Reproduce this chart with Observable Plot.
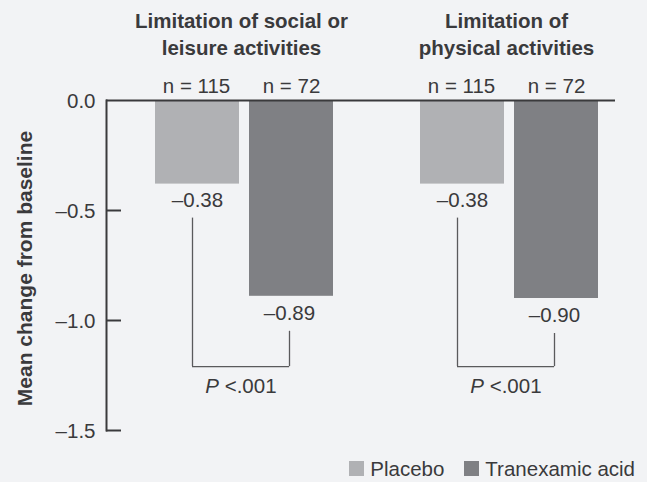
<!DOCTYPE html>
<html>
<head>
<meta charset="utf-8">
<script src="https://cdn.jsdelivr.net/npm/d3@7"></script>
<script src="https://cdn.jsdelivr.net/npm/@observablehq/plot@0.6"></script>
<style>
  html, body { margin: 0; padding: 0; background: #f2f3f5; }
  #chart { width: 647px; height: 482px; overflow: hidden; background: #f2f3f5;
           font-family: "Liberation Sans", Arial, sans-serif; color: #3a3a3c; }
  #chart svg { display: block; }
  .legend { display: flex; justify-content: flex-end; align-items: center; height: 19px; margin-top: -4px;
            padding-right: 12px; font-size: 20.5px; line-height: 19px; color: #3a3a3c; }
  .legend .item { display: inline-flex; align-items: center; margin-left: 20px; }
  .legend .sw { display: inline-block; width: 15px; height: 15px; margin-right: 6px; }
</style>
</head>
<body>
<div id="chart"></div>
<script>
// ---- data ----
const groups = ["Limitation of social or\nleisure activities", "Limitation of\nphysical activities"];
const series = ["Placebo", "Tranexamic acid"];
const placeboMeans = [-0.38, -0.38];
const tranexamicMeans = [-0.89, -0.90];
const placeboN = [115, 115];
const tranexamicN = [72, 72];
const pLabels = ["<.001", "<.001"];
const yTicks = [0, -0.5, -1.0, -1.5];
const yTickLabels = ["0.0", "–0.5", "–1.0", "–1.5"];
const yLabel = "Mean change from baseline";
const bracketLevel = -1.21;
const colors = ["#b0b1b4", "#7f8084"];

// ---- tables ----
const placeboRows = groups.map((g, i) => ({group: g, series: series[0], value: placeboMeans[i], n: placeboN[i]}));
const tranexamicRows = groups.map((g, i) => ({group: g, series: series[1], value: tranexamicMeans[i], n: tranexamicN[i]}));
const pRows = groups.map((g, i) => ({group: g, p: pLabels[i], placebo: placeboMeans[i], tranexamic: tranexamicMeans[i]}));

const fmt = v => (v < 0 ? "–" : "") + Math.abs(v).toFixed(2);
const ink = "#3a3a3c";
const half = 47;

const chart = Plot.plot({
  width: 647,
  height: 463,
  marginLeft: 106,
  marginRight: 32,
  marginTop: 100,
  marginBottom: 33,
  style: {background: "transparent", fontSize: "20.5px", fontFamily: "Liberation Sans, Arial, sans-serif", color: ink},
  x: {type: "band", domain: groups, paddingInner: 87 / 265, paddingOuter: 33 / 265, align: 49 / 66, round: false, axis: null},
  y: {domain: [-1.5, 0], axis: null},
  color: {domain: series, range: colors},
  marks: [
    Plot.barY(placeboRows, {x: "group", y: "value", fill: "series", insetRight: 94}),
    Plot.barY(tranexamicRows, {x: "group", y: "value", fill: "series", insetLeft: 94}),
    Plot.ruleY([0], {stroke: ink, strokeWidth: 2}),
    Plot.frame({anchor: "left", stroke: ink, strokeWidth: 2}),
    Plot.axisY({ticks: yTicks.slice(1), tickSize: 15, dx: 15, fill: "none", stroke: ink, strokeWidth: 2, label: null}),
    Plot.axisY({ticks: yTicks, tickSize: 0, tickPadding: 11, tickFormat: d => yTickLabels[yTicks.indexOf(d)], label: null, dy: 1}),
    Plot.text([yLabel], {frameAnchor: "left", rotate: -90, textAnchor: "middle", dx: -81, dy: 3, fontSize: 21, fontWeight: "bold", text: d => d}),
    // group titles
    Plot.text(groups, {x: d => d, text: d => d, frameAnchor: "top", dy: -45.6, dx: -3, lineAnchor: "bottom", lineHeight: 1.29, fontWeight: "bold"}),
    // n labels
    Plot.text(placeboRows, {x: "group", text: d => `n = ${d.n}`, frameAnchor: "top", dy: -7.6, dx: -half - 1, lineAnchor: "bottom"}),
    Plot.text(tranexamicRows, {x: "group", text: d => `n = ${d.n}`, frameAnchor: "top", dy: -7.6, dx: half, lineAnchor: "bottom"}),
    // value labels
    Plot.text(placeboRows, {x: "group", y: "value", text: d => fmt(d.value), dx: -half, dy: 8, lineAnchor: "top"}),
    Plot.text(tranexamicRows, {x: "group", y: "value", text: d => fmt(d.value), dx: half - 2, dy: 9, lineAnchor: "top"}),
    // significance brackets
    Plot.ruleX(pRows, {x: "group", y1: "placebo", y2: bracketLevel, dx: -52, insetTop: 34, stroke: "#5a5a5c", strokeWidth: 1.3}),
    Plot.ruleX(pRows, {x: "group", y1: "tranexamic", y2: bracketLevel, dx: 45, insetTop: 35, stroke: "#5a5a5c", strokeWidth: 1.3}),
    Plot.tickY(pRows, {x: "group", y: bracketLevel, insetLeft: 37, insetRight: 44, stroke: "#5a5a5c", strokeWidth: 1.3}),
    Plot.text(pRows, {x: "group", y: bracketLevel, text: () => "P", textAnchor: "end", dx: -25.5, dy: 20, fontStyle: "italic"}),
    Plot.text(pRows, {x: "group", y: bracketLevel, text: "p", textAnchor: "start", dx: -19.8, dy: 20})
  ]
});

const root = document.getElementById("chart");
root.appendChild(chart);

const legend = d3.create("div").attr("class", "legend");
series.forEach((s, i) => {
  const item = legend.append("span").attr("class", "item");
  item.append("span").attr("class", "sw").style("background", chart.scale("color").apply(s));
  item.append("span").text(s);
});
root.appendChild(legend.node());
</script>
</body>
</html>
